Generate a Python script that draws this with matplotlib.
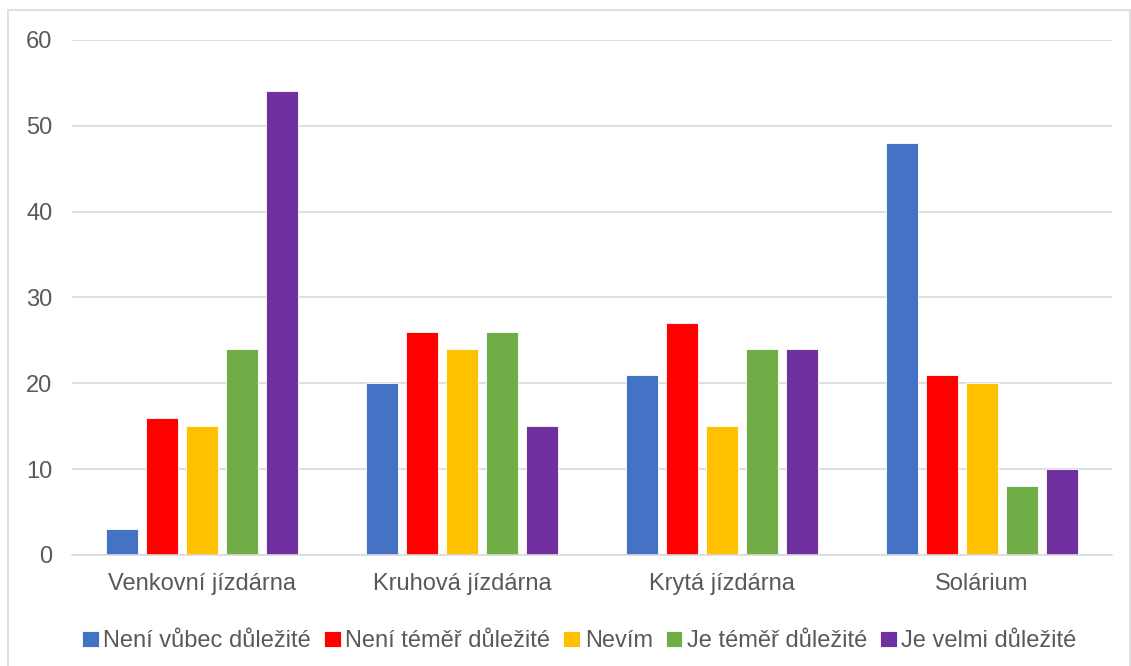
import matplotlib.pyplot as plt
import numpy as np
from matplotlib.patches import Rectangle

categories = ['Venkovní jízdárna', 'Kruhová jízdárna', 'Krytá jízdárna', 'Solárium']
series_names = ['Není vůbec důležité', 'Není téměř důležité', 'Nevím',
                'Je téměř důležité', 'Je velmi důležité']
ne_vubec = [3, 20, 21, 48]
ne_temer = [16, 26, 27, 21]
nevim = [15, 24, 15, 20]
je_temer = [24, 26, 24, 8]
je_velmi = [54, 15, 24, 10]
colors = ['#4472C4', '#FF0000', '#FFC000', '#70AD47', '#7030A0']

plt.rcParams['font.family'] = ['Liberation Sans', 'DejaVu Sans']
text_color = '#595959'

fig = plt.figure(figsize=(11.31, 6.66), dpi=100)
ax = fig.add_axes([0.0637, 0.1667, 0.9193, 0.7733])

# light frame around the whole chart
fig.patches.append(Rectangle((8 / 1131, -0.01), 1122 / 1131, (656 / 666) + 0.01,
                             transform=fig.transFigure, fill=False,
                             edgecolor='#D9D9D9', linewidth=1.2))

x = np.arange(len(categories))
slot = 40 / 260
width = 32 / 260
all_series = [ne_vubec, ne_temer, nevim, je_temer, je_velmi]
for k, (vals, name, col) in enumerate(zip(all_series, series_names, colors)):
    offs = (k - 2) * slot
    ax.bar(x + offs, vals, width, color=col, label=name,
           edgecolor='white', linewidth=0.6, zorder=3)

ax.set_xlim(-0.5, len(categories) - 0.5)
ax.set_ylim(0, 60)
ax.set_yticks(range(0, 61, 10))
ax.set_xticks(x)
ax.set_xticklabels(categories)
ax.grid(axis='y', color='#D9D9D9', linewidth=1.2, zorder=0)
for s in ['top', 'right', 'left']:
    ax.spines[s].set_visible(False)
ax.spines['bottom'].set_color('#D9D9D9')
ax.spines['bottom'].set_linewidth(1.2)
ax.spines['bottom'].set_zorder(4)
ax.tick_params(axis='both', length=0, labelsize=17, colors=text_color)
ax.tick_params(axis='x', pad=13)
ax.tick_params(axis='y', pad=14)

leg = ax.legend(loc='upper center', bbox_to_anchor=(0.488, -0.105), ncol=5,
                frameon=False, fontsize=17, handlelength=0.7, handleheight=0.7,
                handletextpad=0.2, columnspacing=0.55)
for t in leg.get_texts():
    t.set_color(text_color)

fig.savefig('out.png', dpi=100)
